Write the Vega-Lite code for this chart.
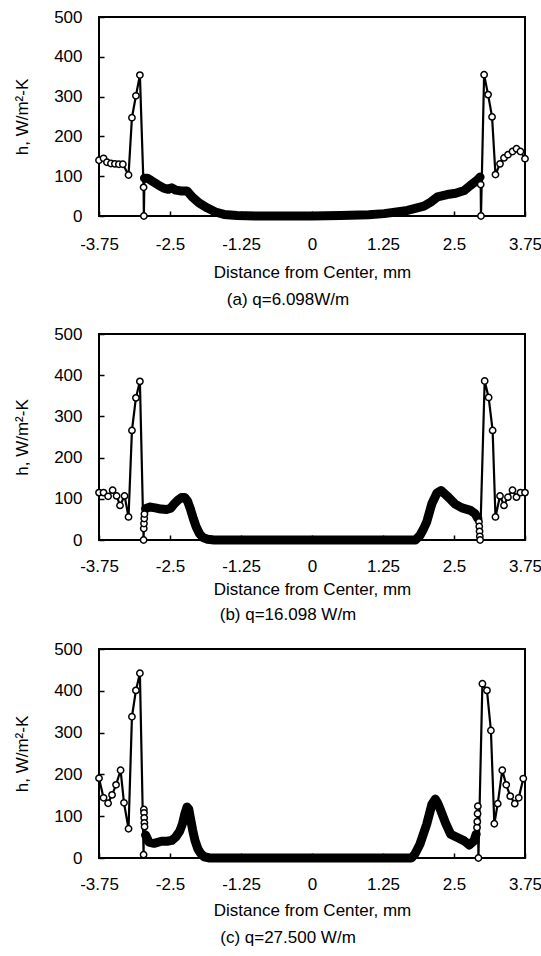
{
  "$schema": "https://vega.github.io/schema/vega-lite/v6.json",
  "padding": {"left": 12, "top": 7, "right": 0, "bottom": 2},
  "background": "white",
  "config": {
    "font": "Liberation Sans",
    "view": {"stroke": "black", "strokeWidth": 2},
    "axis": {
      "labelFont": "Liberation Sans", "labelFontSize": 17, "labelColor": "black",
      "titleFont": "Liberation Sans", "titleFontSize": 17, "titleFontWeight": "normal", "titleColor": "black",
      "grid": false, "domain": false, "tickColor": "black", "tickSize": -5, "tickWidth": 1.5, "labelFlush": false
    },
    "axisX": {"labelPadding": 25, "titlePadding": 12, "labelExpr": "'' + datum.value"},
    "axisY": {"labelPadding": 22, "titlePadding": 22},
    "title": {"font": "Liberation Sans", "fontSize": 17, "fontWeight": "normal", "color": "black"},
    "concat": {"spacing": 15}
  },
  "datasets": {
    "d": [
      {"p":"a","i":1,"x":-3.75,"h":140,"k":"s"},
      {"p":"a","i":2,"x":-3.67,"h":145,"k":"s"},
      {"p":"a","i":3,"x":-3.61,"h":135,"k":"s"},
      {"p":"a","i":4,"x":-3.54,"h":132,"k":"s"},
      {"p":"a","i":5,"x":-3.47,"h":131,"k":"s"},
      {"p":"a","i":6,"x":-3.40,"h":130,"k":"s"},
      {"p":"a","i":7,"x":-3.33,"h":130,"k":"s"},
      {"p":"a","i":8,"x":-3.23,"h":103,"k":"s"},
      {"p":"a","i":9,"x":-3.17,"h":247,"k":"s"},
      {"p":"a","i":10,"x":-3.10,"h":302,"k":"s"},
      {"p":"a","i":11,"x":-3.03,"h":354,"k":"s"},
      {"p":"a","i":12,"x":-2.965,"h":72,"k":"s"},
      {"p":"a","i":13,"x":-2.96,"h":0,"k":"s"},
      {"p":"a","i":14,"x":-2.95,"h":95,"k":"d"},
      {"p":"a","i":15,"x":-2.90,"h":95,"k":"d"},
      {"p":"a","i":16,"x":-2.84,"h":90,"k":"d"},
      {"p":"a","i":17,"x":-2.72,"h":79,"k":"d"},
      {"p":"a","i":18,"x":-2.61,"h":70,"k":"d"},
      {"p":"a","i":19,"x":-2.53,"h":67,"k":"d"},
      {"p":"a","i":20,"x":-2.47,"h":71,"k":"d"},
      {"p":"a","i":21,"x":-2.40,"h":65,"k":"d"},
      {"p":"a","i":22,"x":-2.30,"h":63,"k":"d"},
      {"p":"a","i":23,"x":-2.20,"h":63,"k":"d"},
      {"p":"a","i":24,"x":-2.11,"h":48,"k":"d"},
      {"p":"a","i":25,"x":-1.99,"h":33,"k":"d"},
      {"p":"a","i":26,"x":-1.84,"h":20,"k":"d"},
      {"p":"a","i":27,"x":-1.70,"h":10,"k":"d"},
      {"p":"a","i":28,"x":-1.55,"h":4,"k":"d"},
      {"p":"a","i":29,"x":-1.32,"h":1,"k":"d"},
      {"p":"a","i":30,"x":-1.0,"h":0,"k":"d"},
      {"p":"a","i":31,"x":0,"h":0,"k":"d"},
      {"p":"a","i":32,"x":0.5,"h":1,"k":"d"},
      {"p":"a","i":33,"x":1.0,"h":3,"k":"d"},
      {"p":"a","i":34,"x":1.27,"h":6,"k":"d"},
      {"p":"a","i":35,"x":1.68,"h":14,"k":"d"},
      {"p":"a","i":36,"x":1.97,"h":25,"k":"d"},
      {"p":"a","i":37,"x":2.09,"h":35,"k":"d"},
      {"p":"a","i":38,"x":2.21,"h":48,"k":"d"},
      {"p":"a","i":39,"x":2.38,"h":54,"k":"d"},
      {"p":"a","i":40,"x":2.53,"h":57,"k":"d"},
      {"p":"a","i":41,"x":2.68,"h":64,"k":"d"},
      {"p":"a","i":42,"x":2.79,"h":77,"k":"d"},
      {"p":"a","i":43,"x":2.91,"h":90,"k":"d"},
      {"p":"a","i":44,"x":2.96,"h":98,"k":"d"},
      {"p":"a","i":45,"x":2.97,"h":79,"k":"s"},
      {"p":"a","i":46,"x":2.975,"h":0,"k":"s"},
      {"p":"a","i":47,"x":3.03,"h":355,"k":"s"},
      {"p":"a","i":48,"x":3.10,"h":305,"k":"s"},
      {"p":"a","i":49,"x":3.17,"h":249,"k":"s"},
      {"p":"a","i":50,"x":3.23,"h":104,"k":"s"},
      {"p":"a","i":51,"x":3.31,"h":131,"k":"s"},
      {"p":"a","i":52,"x":3.38,"h":146,"k":"s"},
      {"p":"a","i":53,"x":3.45,"h":154,"k":"s"},
      {"p":"a","i":54,"x":3.53,"h":162,"k":"s"},
      {"p":"a","i":55,"x":3.60,"h":169,"k":"s"},
      {"p":"a","i":56,"x":3.67,"h":162,"k":"s"},
      {"p":"a","i":57,"x":3.75,"h":144,"k":"s"},

      {"p":"b","i":1,"x":-3.75,"h":115,"k":"s"},
      {"p":"b","i":2,"x":-3.67,"h":115,"k":"s"},
      {"p":"b","i":3,"x":-3.59,"h":106,"k":"s"},
      {"p":"b","i":4,"x":-3.51,"h":121,"k":"s"},
      {"p":"b","i":5,"x":-3.44,"h":107,"k":"s"},
      {"p":"b","i":6,"x":-3.38,"h":84,"k":"s"},
      {"p":"b","i":7,"x":-3.30,"h":107,"k":"s"},
      {"p":"b","i":8,"x":-3.23,"h":56,"k":"s"},
      {"p":"b","i":9,"x":-3.17,"h":266,"k":"s"},
      {"p":"b","i":10,"x":-3.10,"h":345,"k":"s"},
      {"p":"b","i":11,"x":-3.03,"h":385,"k":"s"},
      {"p":"b","i":12,"x":-2.965,"h":0,"k":"s"},
      {"p":"b","i":13,"x":-2.962,"h":28,"k":"s"},
      {"p":"b","i":14,"x":-2.958,"h":40,"k":"s"},
      {"p":"b","i":15,"x":-2.954,"h":52,"k":"s"},
      {"p":"b","i":16,"x":-2.95,"h":63,"k":"s"},
      {"p":"b","i":17,"x":-2.93,"h":76,"k":"d"},
      {"p":"b","i":18,"x":-2.86,"h":80,"k":"d"},
      {"p":"b","i":19,"x":-2.76,"h":78,"k":"d"},
      {"p":"b","i":20,"x":-2.66,"h":75,"k":"d"},
      {"p":"b","i":21,"x":-2.56,"h":74,"k":"d"},
      {"p":"b","i":22,"x":-2.49,"h":77,"k":"d"},
      {"p":"b","i":23,"x":-2.43,"h":87,"k":"d"},
      {"p":"b","i":24,"x":-2.36,"h":97,"k":"d"},
      {"p":"b","i":25,"x":-2.30,"h":103,"k":"d"},
      {"p":"b","i":26,"x":-2.24,"h":103,"k":"d"},
      {"p":"b","i":27,"x":-2.19,"h":94,"k":"d"},
      {"p":"b","i":28,"x":-2.14,"h":75,"k":"d"},
      {"p":"b","i":29,"x":-2.09,"h":52,"k":"d"},
      {"p":"b","i":30,"x":-2.04,"h":32,"k":"d"},
      {"p":"b","i":31,"x":-1.98,"h":15,"k":"d"},
      {"p":"b","i":32,"x":-1.92,"h":6,"k":"d"},
      {"p":"b","i":33,"x":-1.84,"h":2,"k":"d"},
      {"p":"b","i":34,"x":-1.72,"h":0,"k":"d"},
      {"p":"b","i":35,"x":0,"h":0,"k":"d"},
      {"p":"b","i":36,"x":1.82,"h":0,"k":"d"},
      {"p":"b","i":37,"x":1.90,"h":11,"k":"d"},
      {"p":"b","i":38,"x":1.96,"h":26,"k":"d"},
      {"p":"b","i":39,"x":2.02,"h":44,"k":"d"},
      {"p":"b","i":40,"x":2.11,"h":88,"k":"d"},
      {"p":"b","i":41,"x":2.20,"h":114,"k":"d"},
      {"p":"b","i":42,"x":2.27,"h":120,"k":"d"},
      {"p":"b","i":43,"x":2.33,"h":113,"k":"d"},
      {"p":"b","i":44,"x":2.40,"h":104,"k":"d"},
      {"p":"b","i":45,"x":2.52,"h":87,"k":"d"},
      {"p":"b","i":46,"x":2.64,"h":78,"k":"d"},
      {"p":"b","i":47,"x":2.79,"h":72,"k":"d"},
      {"p":"b","i":48,"x":2.87,"h":64,"k":"d"},
      {"p":"b","i":49,"x":2.92,"h":52,"k":"d"},
      {"p":"b","i":50,"x":2.94,"h":44,"k":"s"},
      {"p":"b","i":51,"x":2.945,"h":33,"k":"s"},
      {"p":"b","i":52,"x":2.95,"h":21,"k":"s"},
      {"p":"b","i":53,"x":2.955,"h":9,"k":"s"},
      {"p":"b","i":54,"x":2.96,"h":0,"k":"s"},
      {"p":"b","i":55,"x":3.04,"h":386,"k":"s"},
      {"p":"b","i":56,"x":3.11,"h":346,"k":"s"},
      {"p":"b","i":57,"x":3.18,"h":266,"k":"s"},
      {"p":"b","i":58,"x":3.23,"h":56,"k":"s"},
      {"p":"b","i":59,"x":3.31,"h":107,"k":"s"},
      {"p":"b","i":60,"x":3.38,"h":84,"k":"s"},
      {"p":"b","i":61,"x":3.45,"h":104,"k":"s"},
      {"p":"b","i":62,"x":3.53,"h":121,"k":"s"},
      {"p":"b","i":63,"x":3.60,"h":104,"k":"s"},
      {"p":"b","i":64,"x":3.67,"h":115,"k":"s"},
      {"p":"b","i":65,"x":3.75,"h":115,"k":"s"},

      {"p":"c","i":1,"x":-3.75,"h":191,"k":"s"},
      {"p":"c","i":2,"x":-3.67,"h":144,"k":"s"},
      {"p":"c","i":3,"x":-3.59,"h":131,"k":"s"},
      {"p":"c","i":4,"x":-3.52,"h":151,"k":"s"},
      {"p":"c","i":5,"x":-3.45,"h":175,"k":"s"},
      {"p":"c","i":6,"x":-3.37,"h":210,"k":"s"},
      {"p":"c","i":7,"x":-3.31,"h":132,"k":"s"},
      {"p":"c","i":8,"x":-3.23,"h":70,"k":"s"},
      {"p":"c","i":9,"x":-3.17,"h":338,"k":"s"},
      {"p":"c","i":10,"x":-3.10,"h":401,"k":"s"},
      {"p":"c","i":11,"x":-3.03,"h":442,"k":"s"},
      {"p":"c","i":12,"x":-2.965,"h":8,"k":"s"},
      {"p":"c","i":13,"x":-2.96,"h":116,"k":"s"},
      {"p":"c","i":14,"x":-2.957,"h":108,"k":"s"},
      {"p":"c","i":15,"x":-2.954,"h":96,"k":"s"},
      {"p":"c","i":16,"x":-2.951,"h":84,"k":"s"},
      {"p":"c","i":17,"x":-2.948,"h":75,"k":"s"},
      {"p":"c","i":18,"x":-2.93,"h":55,"k":"d"},
      {"p":"c","i":19,"x":-2.87,"h":38,"k":"d"},
      {"p":"c","i":20,"x":-2.78,"h":35,"k":"d"},
      {"p":"c","i":21,"x":-2.65,"h":40,"k":"d"},
      {"p":"c","i":22,"x":-2.55,"h":40,"k":"d"},
      {"p":"c","i":23,"x":-2.47,"h":42,"k":"d"},
      {"p":"c","i":24,"x":-2.40,"h":50,"k":"d"},
      {"p":"c","i":25,"x":-2.33,"h":64,"k":"d"},
      {"p":"c","i":26,"x":-2.28,"h":82,"k":"d"},
      {"p":"c","i":27,"x":-2.24,"h":105,"k":"d"},
      {"p":"c","i":28,"x":-2.20,"h":122,"k":"d"},
      {"p":"c","i":29,"x":-2.17,"h":117,"k":"d"},
      {"p":"c","i":30,"x":-2.14,"h":95,"k":"d"},
      {"p":"c","i":31,"x":-2.10,"h":66,"k":"d"},
      {"p":"c","i":32,"x":-2.06,"h":42,"k":"d"},
      {"p":"c","i":33,"x":-2.01,"h":22,"k":"d"},
      {"p":"c","i":34,"x":-1.96,"h":11,"k":"d"},
      {"p":"c","i":35,"x":-1.90,"h":3,"k":"d"},
      {"p":"c","i":36,"x":-1.80,"h":0,"k":"d"},
      {"p":"c","i":37,"x":0,"h":0,"k":"d"},
      {"p":"c","i":38,"x":1.75,"h":0,"k":"d"},
      {"p":"c","i":39,"x":1.81,"h":9,"k":"d"},
      {"p":"c","i":40,"x":1.90,"h":33,"k":"d"},
      {"p":"c","i":41,"x":2.02,"h":81,"k":"d"},
      {"p":"c","i":42,"x":2.11,"h":128,"k":"d"},
      {"p":"c","i":43,"x":2.17,"h":141,"k":"d"},
      {"p":"c","i":44,"x":2.21,"h":132,"k":"d"},
      {"p":"c","i":45,"x":2.26,"h":116,"k":"d"},
      {"p":"c","i":46,"x":2.35,"h":84,"k":"d"},
      {"p":"c","i":47,"x":2.44,"h":57,"k":"d"},
      {"p":"c","i":48,"x":2.56,"h":49,"k":"d"},
      {"p":"c","i":49,"x":2.68,"h":41,"k":"d"},
      {"p":"c","i":50,"x":2.77,"h":31,"k":"d"},
      {"p":"c","i":51,"x":2.85,"h":41,"k":"d"},
      {"p":"c","i":52,"x":2.89,"h":57,"k":"d"},
      {"p":"c","i":53,"x":2.905,"h":73,"k":"s"},
      {"p":"c","i":54,"x":2.91,"h":87,"k":"s"},
      {"p":"c","i":55,"x":2.915,"h":106,"k":"s"},
      {"p":"c","i":56,"x":2.92,"h":124,"k":"s"},
      {"p":"c","i":57,"x":2.93,"h":0,"k":"s"},
      {"p":"c","i":58,"x":3.00,"h":417,"k":"s"},
      {"p":"c","i":59,"x":3.08,"h":401,"k":"s"},
      {"p":"c","i":60,"x":3.15,"h":305,"k":"s"},
      {"p":"c","i":61,"x":3.21,"h":82,"k":"s"},
      {"p":"c","i":62,"x":3.27,"h":130,"k":"s"},
      {"p":"c","i":63,"x":3.35,"h":210,"k":"s"},
      {"p":"c","i":64,"x":3.42,"h":175,"k":"s"},
      {"p":"c","i":65,"x":3.49,"h":148,"k":"s"},
      {"p":"c","i":66,"x":3.57,"h":130,"k":"s"},
      {"p":"c","i":67,"x":3.64,"h":144,"k":"s"},
      {"p":"c","i":68,"x":3.72,"h":190,"k":"s"}
    ]
  },
  "vconcat": [
    {
      "width": 426, "height": 199,
      "data": {"name": "d"},
      "transform": [{"filter": "datum.p === 'a'"}],
      "title": {"text": "(a) q=6.098W/m", "orient": "bottom", "anchor": "middle", "dx": -24, "offset": 12},
      "encoding": {
        "x": {"field": "x", "type": "quantitative", "scale": {"domain": [-3.75, 3.75], "nice": false, "zero": false},
              "axis": {"values": [-3.75, -2.5, -1.25, 0, 1.25, 2.5, 3.75], "title": "Distance from Center, mm"}},
        "y": {"field": "h", "type": "quantitative", "scale": {"domain": [0, 500], "nice": false},
              "axis": {"values": [0, 100, 200, 300, 400, 500], "title": "h, W/m²-K"}},
        "order": {"field": "i"}
      },
      "layer": [
        {"mark": {"type": "line", "color": "black", "strokeWidth": 2.2}},
        {"transform": [{"filter": "datum.k === 'd'"}], "mark": {"type": "line", "color": "black", "strokeWidth": 9, "strokeCap": "round", "strokeJoin": "round"}},
        {"transform": [{"filter": "datum.k === 's'"}], "mark": {"type": "point", "shape": "circle", "filled": true, "fill": "white", "stroke": "black", "strokeWidth": 1.5, "size": 40, "opacity": 1}}
      ]
    },
    {
      "width": 426, "height": 206,
      "data": {"name": "d"},
      "transform": [{"filter": "datum.p === 'b'"}],
      "title": {"text": "(b) q=16.098 W/m", "orient": "bottom", "anchor": "middle", "dx": -24, "offset": 10},
      "encoding": {
        "x": {"field": "x", "type": "quantitative", "scale": {"domain": [-3.75, 3.75], "nice": false, "zero": false},
              "axis": {"values": [-3.75, -2.5, -1.25, 0, 1.25, 2.5, 3.75], "title": "Distance from Center, mm", "labelPadding": 23, "titlePadding": 7}},
        "y": {"field": "h", "type": "quantitative", "scale": {"domain": [0, 500], "nice": false},
              "axis": {"values": [0, 100, 200, 300, 400, 500], "title": "h, W/m²-K"}},
        "order": {"field": "i"}
      },
      "layer": [
        {"mark": {"type": "line", "color": "black", "strokeWidth": 2.2}},
        {"transform": [{"filter": "datum.k === 'd'"}], "mark": {"type": "line", "color": "black", "strokeWidth": 9, "strokeCap": "round", "strokeJoin": "round"}},
        {"transform": [{"filter": "datum.k === 's'"}], "mark": {"type": "point", "shape": "circle", "filled": true, "fill": "white", "stroke": "black", "strokeWidth": 1.5, "size": 40, "opacity": 1}}
      ]
    },
    {
      "width": 426, "height": 209,
      "data": {"name": "d"},
      "transform": [{"filter": "datum.p === 'c'"}],
      "title": {"text": "(c) q=27.500 W/m", "orient": "bottom", "anchor": "middle", "dx": -24, "offset": 12},
      "encoding": {
        "x": {"field": "x", "type": "quantitative", "scale": {"domain": [-3.75, 3.75], "nice": false, "zero": false},
              "axis": {"values": [-3.75, -2.5, -1.25, 0, 1.25, 2.5, 3.75], "title": "Distance from Center, mm", "labelPadding": 23, "titlePadding": 10}},
        "y": {"field": "h", "type": "quantitative", "scale": {"domain": [0, 500], "nice": false},
              "axis": {"values": [0, 100, 200, 300, 400, 500], "title": "h, W/m²-K"}},
        "order": {"field": "i"}
      },
      "layer": [
        {"mark": {"type": "line", "color": "black", "strokeWidth": 2.2}},
        {"transform": [{"filter": "datum.k === 'd'"}], "mark": {"type": "line", "color": "black", "strokeWidth": 9, "strokeCap": "round", "strokeJoin": "round"}},
        {"transform": [{"filter": "datum.k === 's'"}], "mark": {"type": "point", "shape": "circle", "filled": true, "fill": "white", "stroke": "black", "strokeWidth": 1.5, "size": 40, "opacity": 1}}
      ]
    }
  ]
}
